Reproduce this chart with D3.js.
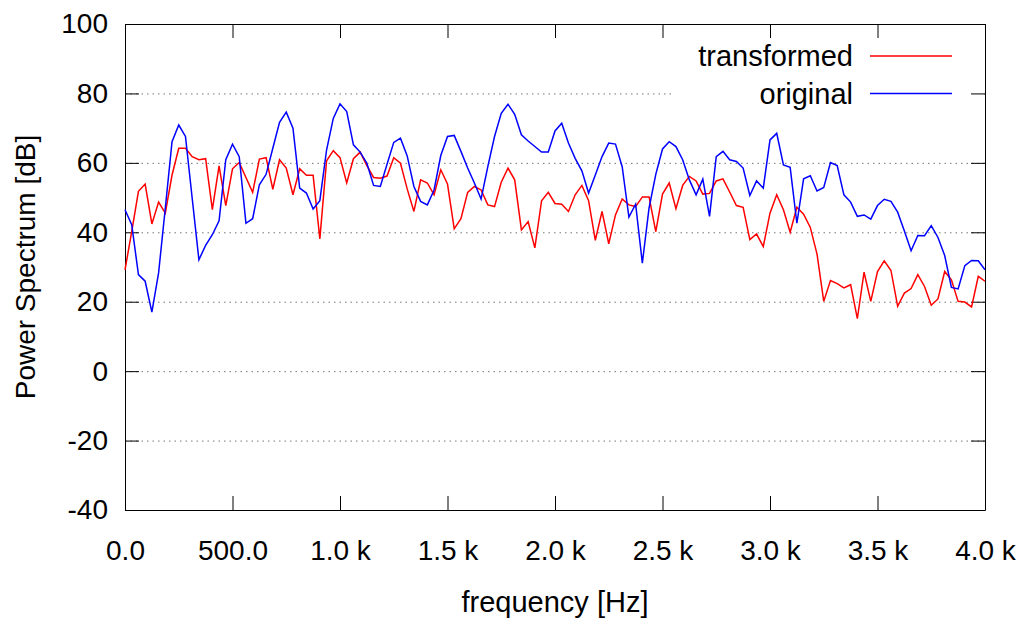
<!DOCTYPE html>
<html lang="en">
<head>
<meta charset="UTF-8">
<title>Power Spectrum</title>
<script src="https://cdn.jsdelivr.net/npm/d3@7"></script>
<style>
  body { margin: 0; background: #fff; }
  svg { display: block; font-family: "Liberation Sans", Arial, Helvetica, sans-serif; }
  .axis path { stroke: #000; stroke-width: 1; }
  .axis line { stroke: #000; stroke-width: 1; }
  .axis text { font-size: 28px; fill: #000; }
  .grid line { stroke: #777; stroke-width: 1; stroke-dasharray: 1.5,4; }
</style>
</head>
<body>
<script>
// FFT bins, 31.25 Hz apart, 0 .. 4000 Hz
const binHz = 31.25;

const transformed = [
  29.2, 40.2, 51.8, 53.9, 42.4, 48.7, 45.5, 56.5, 64.2, 64.2,
  61.8, 60.9, 61.2, 46.5, 59.1, 47.7, 58.3, 60.1, 55.8, 51.5,
  61.1, 61.5, 52.4, 60.9, 58.5, 50.8, 58.3, 56.4, 56.4, 38.1,
  60.6, 63.5, 61.5, 54.2, 61.2, 63.1, 59.2, 55.8, 55.6, 56.2,
  61.5, 59.9, 52.5, 46.0, 55.1, 54.2, 50.8, 58.0, 53.9, 41.0,
  43.9, 51.5, 53.2, 52.2, 47.9, 47.4, 54.4, 58.5, 55.1, 40.7,
  43.1, 35.5, 49.1, 51.5, 48.3, 48.1, 46.0, 50.8, 53.5, 49.1,
  37.7, 46.0, 36.7, 45.0, 49.6, 47.9, 47.4, 50.2, 50.2, 40.2,
  51.0, 54.2, 46.8, 53.5, 56.1, 54.8, 51.0, 51.2, 54.8, 55.4,
  51.6, 47.7, 47.2, 37.9, 39.5, 35.9, 45.5, 50.8, 46.5, 40.0,
  47.2, 45.2, 41.4, 33.7, 20.1, 26.1, 25.2, 24.0, 24.9, 15.1,
  28.5, 20.1, 28.7, 31.8, 29.0, 18.7, 22.5, 23.8, 27.8, 24.4,
  19.0, 20.8, 28.7, 26.3, 20.1, 19.9, 18.5, 27.3, 25.9
];

const original = [
  46.5, 42.2, 27.8, 25.9, 17.0, 28.3, 47.0, 66.1, 70.9, 67.6,
  49.8, 32.1, 36.2, 39.3, 43.3, 60.9, 65.4, 61.8, 42.6, 43.9,
  53.7, 56.7, 64.2, 71.7, 74.6, 70.0, 52.7, 51.3, 46.7, 49.1,
  63.7, 72.8, 77.0, 74.8, 65.2, 63.1, 59.9, 53.5, 53.2, 59.6,
  65.9, 67.1, 62.0, 53.2, 48.9, 47.9, 52.2, 62.1, 67.6, 67.9,
  63.3, 58.5, 54.2, 49.6, 58.9, 67.6, 74.3, 76.9, 74.0, 68.1,
  66.3, 64.7, 63.1, 63.1, 69.2, 71.4, 65.7, 61.3, 57.7, 51.3,
  56.5, 61.8, 65.7, 65.4, 58.9, 44.4, 48.1, 31.1, 47.0, 56.7,
  64.0, 66.1, 64.7, 60.9, 55.1, 50.8, 55.3, 44.6, 61.8, 63.3,
  60.9, 60.4, 58.5, 50.6, 54.8, 52.7, 66.6, 68.5, 59.4, 58.7,
  42.6, 55.4, 56.3, 51.9, 52.9, 60.1, 59.2, 50.8, 48.7, 44.6,
  45.0, 43.8, 47.7, 49.5, 48.9, 45.8, 40.4, 34.7, 39.1, 39.0,
  41.9, 38.5, 33.3, 24.1, 23.7, 30.4, 31.9, 31.8, 29.2
];

const xTicks = [0, 500, 1000, 1500, 2000, 2500, 3000, 3500, 4000];
const yTicks = [-40, -20, 0, 20, 40, 60, 80, 100];

const series = [
  { name: "transformed", values: transformed, color: "#ff0000" },
  { name: "original",    values: original,    color: "#0000ff" }
];

const W = 1024, H = 619;
const margin = { left: 125, right: 39, top: 24, bottom: 109 };
const iw = W - margin.left - margin.right,
      ih = H - margin.top - margin.bottom;
const tick = 14;

const x = d3.scaleLinear().domain([0, 4000]).range([0, iw]);
const y = d3.scaleLinear().domain([-40, 100]).range([ih, 0]);

const fmtX = d => d < 1000 ? d.toFixed(1) : (d / 1000).toFixed(1) + " k";
const fmtY = d => String(d);   // plain hyphen, not the unicode minus

const svg = d3.select("body").append("svg")
    .attr("width", W).attr("height", H);

const g = svg.append("g")
    .attr("transform", `translate(${margin.left},${margin.top})`);

// horizontal dotted grid
g.append("g").attr("class", "grid")
  .selectAll("line")
  .data(yTicks.slice(1, -1))
  .join("line")
    .attr("x1", 0).attr("x2", iw)
    .attr("y1", d => y(d) + 0.5).attr("y2", d => y(d) + 0.5);

// opaque key box
g.append("rect")
    .attr("x", 546).attr("y", 1)
    .attr("width", iw - 547).attr("height", 87)
    .attr("fill", "#fff");

// axes, ticks pointing inward, mirrored on top and right
const xb = g.append("g").attr("class", "axis")
    .attr("transform", `translate(0,${ih})`)
    .call(d3.axisBottom(x).tickValues(xTicks).tickFormat(fmtX).tickSize(-tick).tickSizeOuter(0));
xb.selectAll("text").attr("y", 50).attr("dy", 0);

g.append("g").attr("class", "axis")
    .call(d3.axisTop(x).tickValues(xTicks).tickFormat("").tickSize(-tick).tickSizeOuter(0));

g.append("g").attr("class", "axis")
    .call(d3.axisLeft(y).tickValues(yTicks).tickFormat(fmtY).tickSize(-tick).tickSizeOuter(0).tickPadding(17));

g.append("g").attr("class", "axis")
    .attr("transform", `translate(${iw},0)`)
    .call(d3.axisRight(y).tickValues(yTicks).tickFormat("").tickSize(-tick).tickSizeOuter(0));

// data lines
const line = d3.line()
    .x((d, i) => x(i * binHz))
    .y(d => y(d));

g.selectAll("path.series")
  .data(series)
  .join("path")
    .attr("class", "series")
    .attr("fill", "none")
    .attr("stroke", d => d.color)
    .attr("stroke-width", 1.5)
    .attr("stroke-linejoin", "miter")
    .attr("d", d => line(d.values));

// key
const key = g.selectAll("g.key")
  .data(series)
  .join("g")
    .attr("class", "key")
    .attr("transform", (d, i) => `translate(0,${32 + i * 37.5})`);
key.append("text")
    .attr("x", 728).attr("y", 10)
    .attr("text-anchor", "end")
    .attr("font-size", 29)
    .text(d => d.name);
key.append("line")
    .attr("x1", 745).attr("x2", 827)
    .attr("stroke", d => d.color)
    .attr("stroke-width", 1.5);

// axis titles
svg.append("text")
    .attr("x", margin.left + iw / 2).attr("y", 612)
    .attr("text-anchor", "middle")
    .attr("font-size", 29)
    .text("frequency [Hz]");

svg.append("text")
    .attr("transform", `translate(35,${margin.top + ih / 2}) rotate(-90)`)
    .attr("text-anchor", "middle")
    .attr("font-size", 28)
    .text("Power Spectrum [dB]");
</script>
</body>
</html>
